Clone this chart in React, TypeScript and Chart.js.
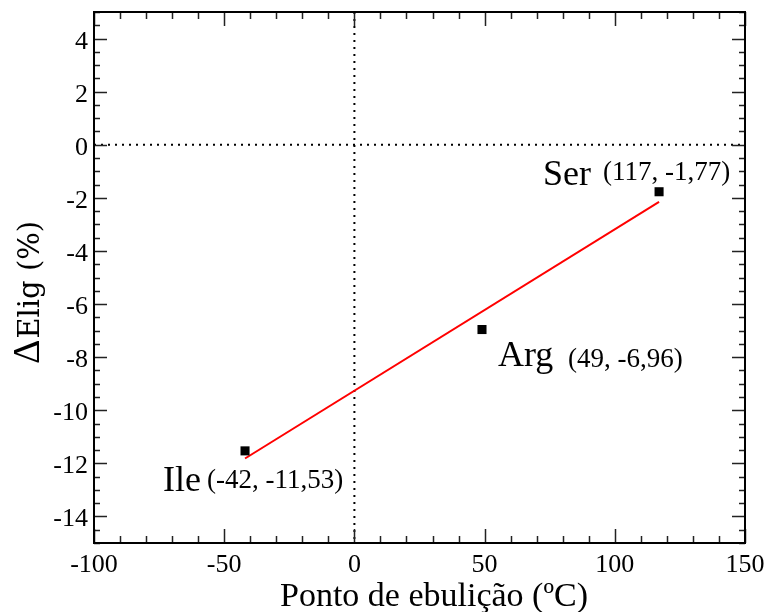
import React, { useEffect, useRef } from "react";
import { Chart, registerables } from "chart.js";

Chart.register(...registerables);

// Amino acids, boiling point (°C) and ΔElig (%)
const aminoAcids = ["Ile", "Arg", "Ser"];
const boilingPoints = [-42, 49, 117];
const deltaElig = [-11.53, -6.96, -1.77];

// Axis tick labels
const xTickValues = [-100, -50, 0, 50, 100, 150];
const yTickValues = [-14, -12, -10, -8, -6, -4, -2, 0, 2, 4];

const SERIF = "'Liberation Serif', 'Times New Roman', serif";

// Label placement relative to each point (name, then coordinate text)
const labelPlacement: Record<string, { name: [number, number]; coord: [number, number] }> = {
  Ile: { name: [-82, 40], coord: [-38, 37] },
  Arg: { name: [16, 36], coord: [86, 37] },
  Ser: { name: [-116, -7], coord: [-56, -12] },
};

// Least-squares fit through the points
function linearFit(xs: number[], ys: number[]) {
  const n = xs.length;
  const mx = xs.reduce((a, b) => a + b, 0) / n;
  const my = ys.reduce((a, b) => a + b, 0) / n;
  let sxy = 0;
  let sxx = 0;
  for (let i = 0; i < n; i++) {
    sxy += (xs[i] - mx) * (ys[i] - my);
    sxx += (xs[i] - mx) * (xs[i] - mx);
  }
  const slope = sxy / sxx;
  return { slope, intercept: my - slope * mx };
}

const fmt = (v: number) => String(v).replace(".", ",");

const framePlugin = {
  id: "frameAndDecor",
  beforeDatasetsDraw(chart: any) {
    const { ctx, chartArea: a, scales } = chart;
    const x0 = scales.x.getPixelForValue(0);
    const y0 = scales.y.getPixelForValue(0);
    ctx.save();
    ctx.strokeStyle = "#000";
    ctx.lineWidth = 2;
    ctx.setLineDash([2, 5]);
    ctx.beginPath();
    ctx.moveTo(x0, a.top);
    ctx.lineTo(x0, a.bottom);
    ctx.moveTo(a.left, y0);
    ctx.lineTo(a.right, y0);
    ctx.stroke();
    ctx.restore();
  },
  afterDraw(chart: any) {
    const { ctx, chartArea: a, scales } = chart;
    const xs = scales.x;
    const ys = scales.y;
    ctx.save();
    ctx.strokeStyle = "#222";
    ctx.lineWidth = 1.5;
    ctx.beginPath();
    // inward ticks on bottom and top
    for (let v = -100; v <= 150; v += 10) {
      const px = Math.round(xs.getPixelForValue(v)) + 0.5;
      const len = v % 50 === 0 ? 14 : 7;
      ctx.moveTo(px, a.bottom);
      ctx.lineTo(px, a.bottom - len);
      ctx.moveTo(px, a.top);
      ctx.lineTo(px, a.top + len);
    }
    // inward ticks on left and right
    for (let v = -15; v <= 5; v += 0.5) {
      const py = Math.round(ys.getPixelForValue(v)) + 0.5;
      const len = Math.abs(v % 2) < 1e-9 ? 13 : 6;
      ctx.moveTo(a.left, py);
      ctx.lineTo(a.left + len, py);
      ctx.moveTo(a.right, py);
      ctx.lineTo(a.right - len, py);
    }
    ctx.stroke();
    // frame
    ctx.strokeStyle = "#000";
    ctx.lineWidth = 2;
    ctx.strokeRect(a.left, a.top, a.right - a.left, a.bottom - a.top);

    ctx.fillStyle = "#000";
    ctx.textBaseline = "alphabetic";

    // tick labels
    ctx.font = `26px ${SERIF}`;
    ctx.textAlign = "center";
    xTickValues.forEach((v) => {
      ctx.fillText(String(v), xs.getPixelForValue(v), a.bottom + 29);
    });
    ctx.textAlign = "right";
    yTickValues.forEach((v) => {
      ctx.fillText(String(v), a.left - 6, ys.getPixelForValue(v) + 10);
    });

    // point labels
    ctx.textAlign = "left";
    aminoAcids.forEach((name, i) => {
      const px = xs.getPixelForValue(boilingPoints[i]);
      const py = ys.getPixelForValue(deltaElig[i]);
      const p = labelPlacement[name];
      ctx.font = `36px ${SERIF}`;
      ctx.fillText(name, px + p.name[0], py + p.name[1]);
      ctx.font = `27px ${SERIF}`;
      ctx.fillText(`(${fmt(boilingPoints[i])}, ${fmt(deltaElig[i])})`, px + p.coord[0], py + p.coord[1]);
    });

    // x axis title
    ctx.font = `34px ${SERIF}`;
    ctx.textAlign = "center";
    ctx.fillText("Ponto de ebulição (ºC)", 434, 606);

    // y axis title
    ctx.translate(39, 293);
    ctx.rotate(-Math.PI / 2);
    const deltaFont = `38px ${SERIF}`;
    const restFont = `29px 'DejaVu Serif', ${SERIF}`;
    ctx.font = deltaFont;
    const wD = ctx.measureText("Δ").width;
    ctx.font = restFont;
    const wRest = ctx.measureText("Elig (%)").width;
    const start = -(wD + wRest) / 2;
    ctx.textAlign = "left";
    ctx.font = deltaFont;
    ctx.fillText("Δ", start, 0);
    ctx.font = restFont;
    ctx.fillText("Elig (%)", start + wD + 1, 0);
    ctx.restore();
  },
};

export default function App() {
  const ref = useRef<HTMLCanvasElement>(null);

  useEffect(() => {
    document.body.style.margin = "0";
    const fit = linearFit(boilingPoints, deltaElig);
    const xMin = Math.min(...boilingPoints);
    const xMax = Math.max(...boilingPoints);
    const chart = new Chart(ref.current!, {
      type: "scatter",
      data: {
        datasets: [
          {
            label: "Ajuste linear",
            data: [
              { x: xMin, y: fit.slope * xMin + fit.intercept },
              { x: xMax, y: fit.slope * xMax + fit.intercept },
            ],
            showLine: true,
            borderColor: "#ff0000",
            borderWidth: 2,
            pointRadius: 0,
            order: 2,
          },
          {
            label: "ΔElig",
            data: boilingPoints.map((x, i) => ({ x, y: deltaElig[i] })),
            pointStyle: "rect",
            pointRadius: 6.4,
            pointBackgroundColor: "#000",
            pointBorderWidth: 0,
            order: 1,
          },
        ],
      },
      options: {
        responsive: false,
        animation: false,
        devicePixelRatio: 1,
        layout: { padding: { left: 0, top: 12, right: 23, bottom: 0 } },
        plugins: { legend: { display: false }, tooltip: { enabled: false } },
        scales: {
          x: {
            type: "linear",
            min: -100,
            max: 150,
            grid: { display: false, drawTicks: false },
            border: { display: false },
            afterBuildTicks: (s: any) => {
              s.ticks = xTickValues.map((value) => ({ value }));
            },
            afterFit: (s: any) => {
              s.height = 69;
            },
            ticks: { display: false },
          },
          y: {
            type: "linear",
            min: -15,
            max: 5,
            grid: { display: false, drawTicks: false },
            border: { display: false },
            afterBuildTicks: (s: any) => {
              s.ticks = yTickValues.map((value) => ({ value }));
            },
            afterFit: (s: any) => {
              s.width = 94;
            },
            ticks: { display: false },
          },
        },
      },
      plugins: [framePlugin],
    });
    return () => chart.destroy();
  }, []);

  return (
    <div style={{ position: "absolute", left: 0, top: 0, width: 768, height: 612, background: "#fff" }}>
      <canvas ref={ref} width={768} height={612} />
    </div>
  );
}
